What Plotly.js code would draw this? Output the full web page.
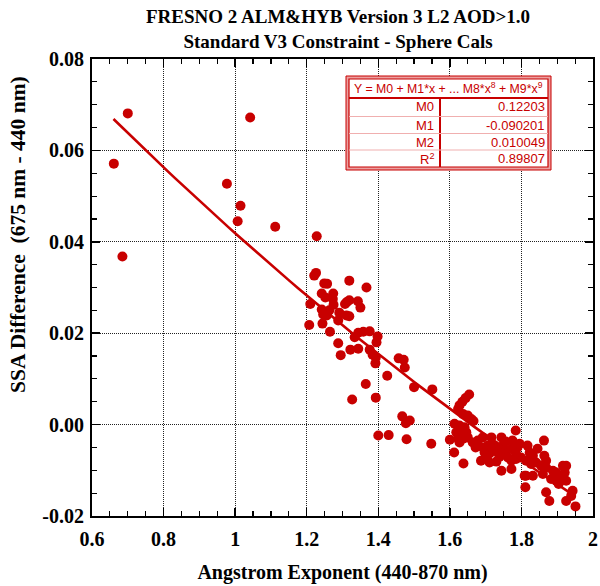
<!DOCTYPE html>
<html>
<head>
<meta charset="utf-8">
<script src="https://cdn.plot.ly/plotly-3.0.1.min.js"></script>
<style>html,body{margin:0;padding:0;background:#fff}</style>
</head>
<body>
<div id="chart" style="width:600px;height:586px"></div>
<script>
// Angstrom exponent (440-870 nm) of each retrieval
const angstrom = [
  0.700, 0.661, 0.685, 1.042, 0.977, 1.015, 1.007, 1.112, 1.228,
  1.226, 1.221, 1.249, 1.257, 1.319, 1.367, 1.242, 1.274, 1.252, 1.273,
  1.312, 1.319, 1.343, 1.210, 1.242, 1.275, 1.307, 1.350, 1.263, 1.246,
  1.291, 1.256, 1.319, 1.311, 1.288, 1.207, 1.244, 1.265, 1.344, 1.358,
  1.376, 1.398, 1.395, 1.288, 1.334, 1.295, 1.322, 1.344, 1.376, 1.384,
  1.392, 1.393, 1.457, 1.471, 1.474, 1.425, 1.365, 1.500, 1.551, 1.327,
  1.393, 1.467, 1.488, 1.477, 1.400, 1.429, 1.479, 1.548, 1.600, 1.612,
  1.654, 1.644, 1.635, 1.627, 1.623, 1.637, 1.650, 1.660, 1.666, 1.613,
  1.627, 1.641, 1.618, 1.632, 1.646, 1.623, 1.637, 1.650, 1.627, 1.664,
  1.638, 1.692, 1.716, 1.744, 1.784, 1.692, 1.706, 1.725, 1.748, 1.697,
  1.711, 1.734, 1.758, 1.772, 1.789, 1.795, 1.687, 1.711, 1.730, 1.762,
  1.772, 1.785, 1.799, 1.744, 1.772, 1.809, 1.811, 1.785,
  1.863, 1.823, 1.832, 1.813, 1.827, 1.841, 1.864, 1.869, 1.855, 1.869,
  1.813, 1.832, 1.860, 1.888, 1.897, 1.916, 1.925, 1.921, 1.883, 1.897,
  1.911, 1.925, 1.904, 1.869, 1.943, 1.939, 1.878, 1.925, 1.951, 1.845,
  1.817, 1.678, 1.703, 1.720, 1.756, 1.775, 1.672, 1.739
];

// SSA difference (675 nm - 440 nm) of each retrieval
const ssaDiff = [
  0.0681, 0.0571, 0.0368, 0.0672, 0.0527, 0.0479, 0.0445, 0.0433, 0.0412,
  0.0332, 0.0326, 0.0309, 0.0308, 0.0315, 0.0300, 0.0287, 0.0287, 0.0278, 0.0275,
  0.0268, 0.0272, 0.0270, 0.0264, 0.0252, 0.0262, 0.0264, 0.0256, 0.0250, 0.0241,
  0.0245, 0.0239, 0.0237, 0.0239, 0.0228, 0.0218, 0.0221, 0.0203, 0.0201, 0.0203,
  0.0204, 0.0193, 0.0180, 0.0178, 0.0191, 0.0152, 0.0164, 0.0166, 0.0164, 0.0153,
  0.0134, 0.0147, 0.0145, 0.0142, 0.0125, 0.0107, 0.0089, 0.0082, 0.0077, 0.0055,
  0.0059, 0.0018, 0.0009, 0.0003, -0.0024, -0.0023, -0.0032, -0.0042, -0.0033, -0.0061,
  0.0066, 0.0058, 0.0050, 0.0042, 0.0034, 0.0023, 0.0020, 0.0012, 0.0008, 0.0002,
  -0.0002, -0.0006, -0.0017, -0.0013, -0.0017, -0.0031, -0.0031, -0.0028, -0.0039, -0.0039,
  -0.0085, -0.0028, -0.0028, -0.0028, -0.0013, -0.0050, -0.0046, -0.0046, -0.0046, -0.0061,
  -0.0063, -0.0061, -0.0057, -0.0053, -0.0050, -0.0042, -0.0079, -0.0083, -0.0081, -0.0072,
  -0.0079, -0.0075, -0.0072, -0.0101, -0.0097, -0.0112, -0.0137, -0.0064,
  -0.0035, -0.0061, -0.0068, -0.0079, -0.0086, -0.0083, -0.0068, -0.0079, -0.0090, -0.0094,
  -0.0112, -0.0112, -0.0108, -0.0101, -0.0105, -0.0090, -0.0090, -0.0105, -0.0119, -0.0123,
  -0.0115, -0.0123, -0.0130, -0.0148, -0.0145, -0.0156, -0.0167, -0.0167, -0.0179, -0.0053,
  -0.0046, -0.0035, -0.0068, -0.0053, -0.0037, -0.0035, -0.0050, -0.0070
];

// Polynomial fit: Y = M0 + M1*x + M2*x^2
const fitNames = ['M0', 'M1', 'M2'];
const fitCoefs = [0.12203, -0.090201, 0.010049];
const fitR2 = 0.89807;
const fitRange = [0.66, 1.95];

const xTicks = [0.6, 0.8, 1, 1.2, 1.4, 1.6, 1.8, 2];
const yTicks = [-0.02, 0, 0.02, 0.04, 0.06, 0.08];

const RED = 'rgb(200,0,0)';
const W = 600, H = 586;
const M = {l: 92, r: 7, t: 59, b: 70};
const PW = W - M.l - M.r, PH = H - M.t - M.b;
const px = v => (v - M.l) / PW;
const py = v => (H - M.b - v) / PH;

// curve of the fitted polynomial across the data span
const fitX = [], fitY = [];
const nSeg = 60;
for (let i = 0; i <= nSeg; i++) {
  const x = fitRange[0] + (fitRange[1] - fitRange[0]) * i / nSeg;
  fitX.push(x);
  fitY.push(fitCoefs.reduce((s, c, k) => s + c * Math.pow(x, k), 0));
}

const traces = [
  {
    type: 'scatter', mode: 'markers', x: angstrom, y: ssaDiff,
    marker: {color: RED, size: 10, line: {width: 0}},
    hoverinfo: 'x+y', showlegend: false
  },
  {
    type: 'scatter', mode: 'lines', x: fitX, y: fitY,
    line: {color: RED, width: 2.6}, hoverinfo: 'skip', showlegend: false
  }
];

// coefficient table
const box = {x0: 346, x1: 551, y0: 76, y1: 170};
const inset = 3;
const headerY = 98, divX = 440;
const rowLines = [116.5, 133.5, 150];
const rowCenters = [107, 125, 142, 158.5];

const shapes = [
  {type: 'rect', xref: 'paper', yref: 'paper', x0: px(box.x0), x1: px(box.x1), y0: py(box.y0), y1: py(box.y1),
   fillcolor: 'rgb(235,160,160)', line: {color: RED, width: 1}, layer: 'above'},
  {type: 'rect', xref: 'paper', yref: 'paper', x0: px(box.x0 + inset), x1: px(box.x1 - inset), y0: py(box.y0 + inset), y1: py(box.y1 - inset),
   fillcolor: 'white', line: {color: RED, width: 1.2}, layer: 'above'},
  {type: 'line', xref: 'paper', yref: 'paper', x0: px(box.x0 + inset), x1: px(box.x1 - inset), y0: py(headerY), y1: py(headerY),
   line: {color: RED, width: 2}, layer: 'above'},
  {type: 'line', xref: 'paper', yref: 'paper', x0: px(divX), x1: px(divX), y0: py(headerY), y1: py(box.y1 - inset),
   line: {color: RED, width: 2}, layer: 'above'}
];
rowLines.forEach(y => shapes.push({
  type: 'line', xref: 'paper', yref: 'paper', x0: px(box.x0 + inset), x1: px(box.x1 - inset), y0: py(y), y1: py(y),
  line: {color: 'rgb(240,175,175)', width: 1}, layer: 'above'
}));

const tableFont = {family: 'Liberation Sans, Arial, sans-serif', size: 13, color: RED};
const annotations = [
  {xref: 'paper', yref: 'paper', x: px((box.x0 + box.x1) / 2), y: py(88), xanchor: 'center', yanchor: 'middle',
   text: 'Y = M0 + M1*x + ... M8*x<sup>8</sup> + M9*x<sup>9</sup>', showarrow: false,
   font: Object.assign({}, tableFont, {size: 12.3})}
];
const rowLabels = fitNames.concat(['R<sup>2</sup>']);
const rowValues = fitCoefs.concat([fitR2]).map(v => String(v));
rowLabels.forEach((lab, i) => {
  annotations.push({xref: 'paper', yref: 'paper', x: px(436), y: py(rowCenters[i]), xanchor: 'right', yanchor: 'middle',
    text: lab, showarrow: false, font: tableFont});
  annotations.push({xref: 'paper', yref: 'paper', x: px(547), y: py(rowCenters[i]), xanchor: 'right', yanchor: 'middle',
    text: rowValues[i], showarrow: false, font: tableFont});
});

const SERIF = 'Liberation Serif, Times New Roman, serif';
const serifBold = {family: SERIF, size: 20, color: '#000', weight: 'bold'};

// chart title, two centred lines
annotations.push({xref: 'paper', yref: 'paper', x: px(337.5), y: py(4), xanchor: 'center', yanchor: 'top',
  showarrow: false, align: 'center',
  text: 'FRESNO 2 ALM&HYB Version 3 L2 AOD>1.0<br>Standard V3 Constraint - Sphere Cals',
  font: {family: SERIF, size: 19, color: '#000', weight: 'bold'}});

// y-axis title
annotations.push({xref: 'paper', yref: 'paper', x: px(18), y: py(235), xanchor: 'center', yanchor: 'middle',
  textangle: -90, showarrow: false, text: 'SSA Difference\u00a0 (675 nm - 440 nm)',
  font: {family: SERIF, size: 21.5, color: '#000', weight: 'bold'}});

const axisCommon = {
  showline: true, linecolor: '#000', linewidth: 2, mirror: 'allticks',
  ticks: 'inside', ticklen: 8, tickwidth: 1.5, tickcolor: '#000',
  showgrid: true, gridcolor: '#222', gridwidth: 1, griddash: '1px,1px',
  zeroline: false, tickfont: serifBold,
  minor: {ticks: 'inside', ticklen: 5, tickwidth: 1.2, tickcolor: '#000', showgrid: false}
};

const layout = {
  width: W, height: H,
  margin: M,
  paper_bgcolor: '#fff', plot_bgcolor: '#fff',
  xaxis: Object.assign({}, axisCommon, {
    range: [0.6, 2.0], tickvals: xTicks, ticktext: xTicks.map(String),
    ticklabelstandoff: 4,
    minor: Object.assign({}, axisCommon.minor, {dtick: 0.05, tick0: 0.6}),
    title: {text: 'Angstrom Exponent (440-870 nm)', font: serifBold, standoff: 16}
  }),
  yaxis: Object.assign({}, axisCommon, {
    range: [-0.02, 0.08], tickvals: yTicks, ticktext: yTicks.map(v => v.toFixed(2)),
    ticklabelstandoff: 2,
    minor: Object.assign({}, axisCommon.minor, {dtick: 0.005, tick0: 0})
  }),
  shapes: shapes,
  annotations: annotations
};

Plotly.newPlot('chart', traces, layout, {displayModeBar: false, staticPlot: true});
</script>
</body>
</html>
